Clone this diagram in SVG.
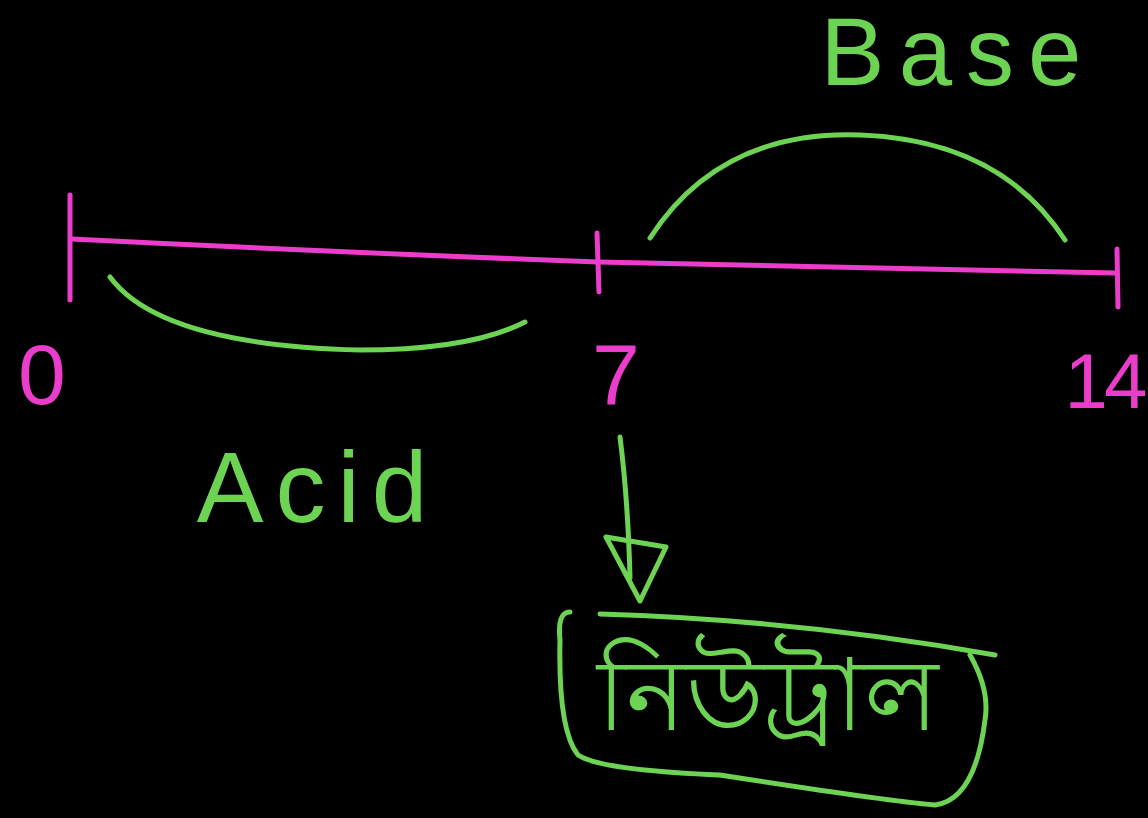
<svg xmlns="http://www.w3.org/2000/svg" width="1148" height="818" viewBox="0 0 1148 818">
<style>
.m{fill:none;stroke:#ec3ccc;stroke-width:5;stroke-linecap:round;stroke-linejoin:round}
.g{fill:none;stroke:#6dd353;stroke-width:5;stroke-linecap:round;stroke-linejoin:round}
.tm{fill:#ec3ccc;font-family:"Liberation Sans",Arial,sans-serif}
.tg{fill:#6dd353;font-family:"Liberation Sans",Arial,sans-serif}
</style>
<rect width="1148" height="818" fill="#000"/>
<g id="number-line">
<path class="m" d="M70,195 L70,300"/>
<path class="m" d="M72,239 Q330,252 598,262 Q860,268 1115,273"/>
<path class="m" d="M597,233 L599,292"/>
<path class="m" d="M1117,249 L1118,307"/>
</g>
<g id="label-0"><text class="tm" x="42" y="404" font-size="86" text-anchor="middle">0</text></g>
<g id="label-7"><text class="tm" x="616" y="404" font-size="86" text-anchor="middle">7</text></g>
<g id="label-14"><text class="tm" x="1104" y="408" font-size="78" text-anchor="middle" letter-spacing="-4">14</text></g>
<g id="acid">
<path class="g" d="M110,277 Q160,345 360,350 Q470,350 525,322"/>
<text class="tg" x="318" y="522" font-size="100" text-anchor="middle" letter-spacing="12">Acid</text>
</g>
<g id="base">
<path class="g" d="M650,238 Q720,130 860,135 Q1000,140 1065,240"/>
<text class="tg" x="958" y="85" font-size="96" text-anchor="middle" letter-spacing="14">Base</text>
</g>
<g id="connectors">
<path class="g" d="M620,437 Q628,500 630,578"/>
<path class="g" d="M606,537 L666,547 L640,601 Z"/>
</g>
<g id="neutral">
<path class="g" d="M600,614 Q800,620 995,655"/>
<path class="g" d="M570,612 Q557,612 560,640 Q558,730 578,755 Q600,770 720,775 Q880,800 935,805 Q975,800 985,720 Q990,690 970,655"/>
<text class="tg" x="768" y="730" font-size="100" text-anchor="middle" font-family="'Noto Sans Bengali','Noto Sans','DejaVu Sans',sans-serif">নিউট্রাল</text>
</g>
</svg>
